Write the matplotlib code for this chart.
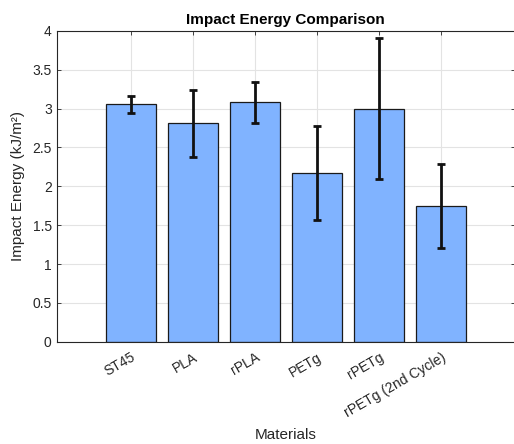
import matplotlib
matplotlib.use("Agg")
import matplotlib.pyplot as plt
import numpy as np

# ─────────────── данные ───────────────
materials = ["ST45", "PLA", "rPLA", "PETg", "rPETg", "rPETg (2nd Cycle)"]
energy = [3.056, 2.81, 3.08, 2.17, 3.00, 1.75]
energy_err = [0.11, 0.43, 0.26, 0.60, 0.91, 0.54]
yticks = [0, 0.5, 1, 1.5, 2, 2.5, 3, 3.5, 4]
ytick_labels = ["0", "0.5", "1", "1.5", "2", "2.5", "3", "3.5", "4"]

plt.rcParams["font.family"] = ["Liberation Sans", "DejaVu Sans"]

fig = plt.figure(figsize=(5.14, 4.44), dpi=100)
ax = fig.add_axes([0.110, 0.2304, 0.892, 0.70])

x = np.arange(len(materials))
ax.bar(x, energy, width=0.8, color="#80b3ff", edgecolor="#1a1a1a",
       linewidth=0.9, zorder=2)
ax.errorbar(x, energy, yerr=energy_err, fmt="none", ecolor="#111111",
            elinewidth=2, capsize=3, capthick=2, zorder=3)

ax.set_xlim(-1.198, 6.19)
ax.set_ylim(0, 4)
ax.set_yticks(yticks)
ax.set_yticklabels(ytick_labels)
ax.set_xticks(x)
ax.set_xticklabels(materials, rotation=30, ha="right", rotation_mode="anchor")

ax.grid(True, color="#e3e3e3", linewidth=0.8, zorder=0)
ax.set_axisbelow(True)
ax.tick_params(direction="in", length=3, width=0.6, colors="#262626",
               labelsize=10, top=True, right=True, labeltop=False, labelright=False)
ax.tick_params(axis="x", pad=6)
for s in ax.spines.values():
    s.set_color("#262626")
    s.set_linewidth(0.8)

ax.set_title("Impact Energy Comparison", fontsize=11, fontweight="bold",
             color="black", pad=5)
ax.set_ylabel("Impact Energy (kJ/m²)", fontsize=11, color="#262626", labelpad=5)
ax.set_xlabel("Materials", fontsize=11, color="#262626", labelpad=6)

fig.savefig("out.png", dpi=100)
